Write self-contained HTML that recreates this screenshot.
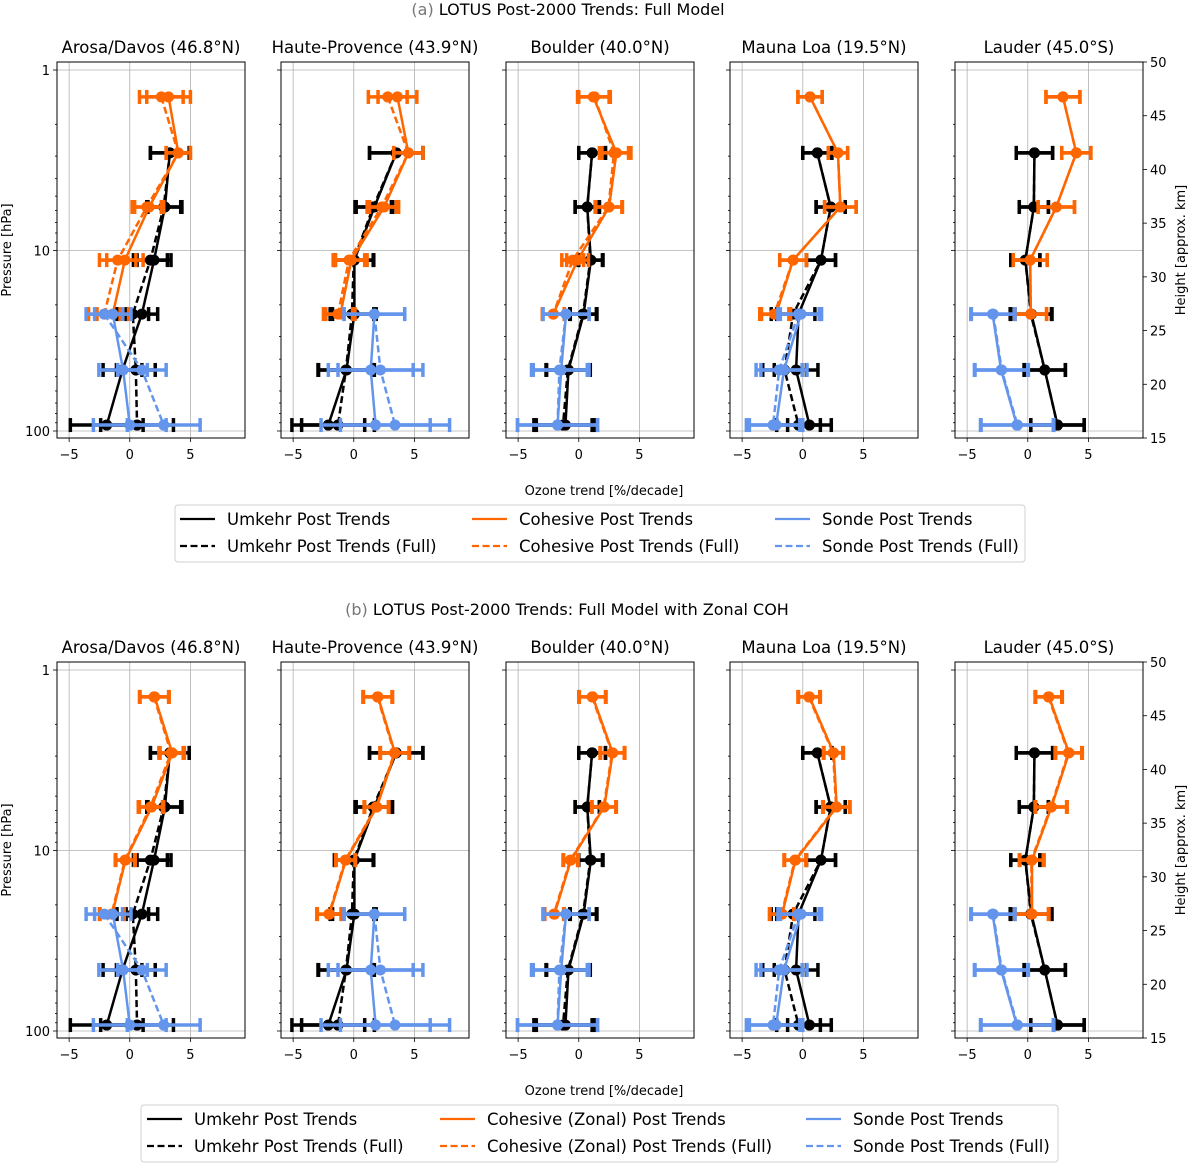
<!DOCTYPE html>
<html><head><meta charset="utf-8">
<style>
html,body{margin:0;padding:0;background:#fff;}
svg{display:block;font-family:"DejaVu Sans","Liberation Sans",sans-serif;}
</style></head>
<body>
<svg id="chart" width="1188" height="1164" viewBox="0 0 1188 1164" xmlns="http://www.w3.org/2000/svg"></svg>
<script>
// ---- data ----
const stations = ["Arosa/Davos (46.8°N)","Haute-Provence (43.9°N)","Boulder (40.0°N)","Mauna Loa (19.5°N)","Lauder (45.0°S)"];
const levels = [1.41, 2.88, 5.74, 11.3, 22.5, 45.9, 92.7];
const xTicks = [-5, 0, 5];
const yTicks = [1, 10, 100];
const hTicks = [15, 20, 25, 30, 35, 40, 45, 50];
const umkSolid = [
 [null,3.3,2.9,2.0,1.0,-0.6,-1.9],
 [null,3.5,1.7,0.05,0.05,-0.6,-2.1],
 [null,1.1,0.7,1.0,0.4,-0.85,-1.1],
 [null,1.2,2.3,1.5,-0.35,-0.55,0.55],
 [null,0.55,0.5,-0.2,0.3,1.4,2.45]];
const umkFull = [
 [null,3.3,2.8,1.7,0.25,0.5,0.6],
 [null,3.5,1.6,0.0,-0.15,-0.65,-1.3],
 [null,1.1,0.7,0.95,0.35,-0.9,-1.3],
 [null,1.2,2.3,1.5,-0.8,-1.5,-0.35],
 [null,0.55,0.5,-0.2,0.25,1.4,2.45]];
const umkErr = [
 [null,1.6,1.4,1.4,1.3,1.6,3.0],
 [null,2.2,1.5,1.6,1.8,2.3,3.0],
 [null,1.1,1.0,1.0,1.1,1.8,2.4],
 [null,1.2,1.2,1.2,1.8,1.8,1.8],
 [null,1.5,1.2,1.2,1.7,1.7,2.2]];
const cohSolidA = [
 [3.2,4.0,1.6,-0.4,-1.4,null,null],
 [3.6,4.5,2.5,-0.2,-1.1,null,null],
 [1.2,3.1,2.5,-0.1,-2.1,null,null],
 [0.6,2.9,3.1,-0.8,-2.2,null,null],
 [2.9,4.0,2.35,0.2,0.25,null,null]];
const cohFullA = [
 [2.6,4.0,1.4,-1.0,-2.1,null,null],
 [2.8,4.5,2.3,-0.4,-1.3,null,null],
 [1.3,2.9,2.45,-0.5,-2.1,null,null],
 [0.6,2.9,3.1,-0.8,-2.35,null,null],
 [2.9,4.0,2.35,0.2,0.25,null,null]];
const cohErrA = [
 [1.8,1.0,1.2,1.5,1.3,null,null],
 [1.6,1.2,1.2,1.3,1.2,null,null],
 [1.3,1.2,1.1,0.9,0.9,null,null],
 [1.0,0.8,1.3,1.1,1.2,null,null],
 [1.4,1.2,1.5,1.4,1.3,null,null]];
const cohSolidB = [
 [2.05,3.5,1.8,-0.35,-1.45,null,null],
 [2.0,3.4,1.9,-0.65,-2.0,null,null],
 [1.15,2.8,2.1,-0.65,-2.0,null,null],
 [0.55,2.55,2.8,-0.6,-1.7,null,null],
 [1.75,3.4,1.95,0.35,0.35,null,null]];
const cohFullB = [
 [2.0,3.4,1.7,-0.4,-1.5,null,null],
 [1.95,3.35,1.85,-0.7,-2.05,null,null],
 [1.1,2.75,2.05,-0.7,-2.05,null,null],
 [0.5,2.5,2.75,-0.65,-1.75,null,null],
 [1.7,3.35,1.9,0.3,0.3,null,null]];
const cohErrB = [
 [1.2,1.0,1.0,0.8,1.0,null,null],
 [1.2,1.2,1.0,0.8,1.0,null,null],
 [1.1,1.0,1.0,0.6,0.8,null,null],
 [0.9,0.8,1.1,0.9,1.0,null,null],
 [1.1,1.1,1.3,1.0,1.4,null,null]];
const sonSolid = [
 [null,null,null,null,-1.4,-0.55,0.0],
 [null,null,null,null,1.7,1.4,1.8],
 [null,null,null,null,-1.05,-1.45,-1.75],
 [null,null,null,null,-0.15,-1.55,-2.2],
 [null,null,null,null,-2.9,-2.2,-0.9]];
const sonFull = [
 [null,null,null,null,-2.1,1.0,2.8],
 [null,null,null,null,1.7,2.2,3.4],
 [null,null,null,null,-1.05,-1.6,-1.75],
 [null,null,null,null,-0.35,-1.95,-2.45],
 [null,null,null,null,-2.85,-2.15,-0.85]];
const sonErr = [
 [null,null,null,null,1.5,2.0,3.0],
 [null,null,null,null,2.5,3.5,4.5],
 [null,null,null,null,1.9,2.3,3.3],
 [null,null,null,null,1.7,1.9,2.2],
 [null,null,null,null,1.8,2.2,3.0]];

// ---- layout ----
const NS="http://www.w3.org/2000/svg";
const svg=document.getElementById('chart');
const panelLeft=[57,281,506,730,955];
const plotW=188, plotTop=62, plotBot=438;
const xMin=-6.0, xMax=9.5;
const BLACK="#000000", ORANGE="#ff6600", BLUE="#6495ed";
function el(tag,attrs,parent){const e=document.createElementNS(NS,tag);for(const k in attrs)e.setAttribute(k,attrs[k]);(parent||svg).appendChild(e);return e;}
function txt(s,attrs,parent){const e=el('text',attrs,parent);e.textContent=s;return e;}
function xScale(i,v){return panelLeft[i]+(v-xMin)/(xMax-xMin)*plotW;}
function yScale(p,off){return off+70+Math.log10(p)*180.5;}
function hScale(h,off){return off+plotBot-(h-15)/(50-15)*(plotBot-plotTop);}

function drawSeries(g,i,off,vals,errs,color,dashed,name){
  const sg=el('g',{},g);
  
  
  const pts=[];
  vals.forEach((v,k)=>{ if(v!==null) pts.push([xScale(i,v),yScale(levels[k],off),k,v]); });
  pts.forEach(p=>{
    const e=errs[p[2]]; if(e===null)return;
    const x1=xScale(i,p[3]-e), x2=xScale(i,p[3]+e);
    const eb=el('g',{},sg);
    
    
    el('line',{x1:x1,x2:x2,y1:p[1],y2:p[1],stroke:color,'stroke-width':3.5},eb);
    el('line',{x1:x1,x2:x1,y1:p[1]-7,y2:p[1]+7,stroke:color,'stroke-width':3.5},eb);
    el('line',{x1:x2,x2:x2,y1:p[1]-7,y2:p[1]+7,stroke:color,'stroke-width':3.5},eb);
  });
  const line=el('polyline',{points:pts.map(p=>p[0]+','+p[1]).join(' '),fill:'none',stroke:color,'stroke-width':2.5,'stroke-dasharray':dashed?'7,3.5':'none'},sg);
  
  
  pts.forEach(p=>{
    const c=el('circle',{cx:p[0],cy:p[1],r:5.5,fill:color},sg);
    
    
  });
}

function drawRow(off,cohS,cohF,cohE,tag){
  for(let i=0;i<5;i++){
    const g=el('g',{});
    
    
    const L=panelLeft[i], T=off+plotTop, B=off+plotBot;
    xTicks.forEach(t=>{const x=xScale(i,t);el('line',{x1:x,x2:x,y1:T,y2:B,stroke:'#b0b0b0','stroke-width':0.8},g);});
    yTicks.forEach(t=>{const y=yScale(t,off);el('line',{x1:L,x2:L+plotW,y1:y,y2:y,stroke:'#b0b0b0','stroke-width':0.8},g);});
    drawSeries(g,i,off,umkFull[i],umkErr[i],BLACK,true,'umkehr-full-series');
    drawSeries(g,i,off,umkSolid[i],umkErr[i],BLACK,false,'umkehr-series');
    drawSeries(g,i,off,cohF[i],cohE[i],ORANGE,true,'cohesive-full-series');
    drawSeries(g,i,off,cohS[i],cohE[i],ORANGE,false,'cohesive-series');
    drawSeries(g,i,off,sonFull[i],sonErr[i],BLUE,true,'sonde-full-series');
    drawSeries(g,i,off,sonSolid[i],sonErr[i],BLUE,false,'sonde-series');
    el('rect',{x:L,y:T,width:plotW,height:B-T,fill:'none',stroke:'#000','stroke-width':1},g);
    xTicks.forEach(t=>{const x=xScale(i,t);el('line',{x1:x,x2:x,y1:B,y2:B+4,stroke:'#000','stroke-width':0.8},g);
      const lb=txt(t<0?'\u2212'+Math.abs(t):String(t),{x:x,y:B+21,'font-size':13,'text-anchor':'middle'},g);
      });
    for(let d=0;d<=2;d++){for(let m=1;m<=9;m++){const p=m*Math.pow(10,d);if(p>109||p<0.9)continue;const y=yScale(p,off);
      el('line',{x1:L-(m===1?4:2),x2:L,y1:y,y2:y,stroke:'#000','stroke-width':0.8},g);}}
    if(i===0){yTicks.forEach(t=>{const lb=txt(String(t),{x:L-7,y:yScale(t,off)+5,'font-size':13,'text-anchor':'end'},g);
      });}
    if(i===4){const R=L+plotW;hTicks.forEach(h=>{const y=hScale(h,off);el('line',{x1:R,x2:R+4,y1:y,y2:y,stroke:'#000','stroke-width':0.8},g);
      const lb=txt(String(h),{x:R+7,y:y+5,'font-size':13},g);});}
    const tt=txt(stations[i],{x:L+plotW/2,y:off+53,'font-size':16.5,'text-anchor':'middle'},g);
    
  }
  const yl=txt('Pressure [hPa]',{x:0,y:0,'font-size':13,'text-anchor':'middle',transform:`translate(11,${off+250}) rotate(-90)`});
  
  const hl=txt('Height [approx. km]',{x:0,y:0,'font-size':13,'text-anchor':'middle',transform:`translate(1185,${off+250}) rotate(-90)`});
  
  const xl=txt('Ozone trend [%/decade]',{x:604,y:off+495,'font-size':13,'text-anchor':'middle'});
  
}

function drawLegend(off,box,cols,labels,tag){
  const g=el('g',{});
  
  
  el('rect',{x:box[0],y:off+505,width:box[1]-box[0],height:57,rx:3,fill:'#fff',stroke:'#d0d0d0','stroke-width':1},g);
  const colors=[BLACK,ORANGE,BLUE];
  for(let c=0;c<3;c++){for(let r=0;r<2;r++){
    const y=off+519+r*27;
    const e=el('g',{},g);
    
    
    el('line',{x1:cols[c],x2:cols[c]+35,y1:y,y2:y,stroke:colors[c],'stroke-width':2.2,'stroke-dasharray':r?'7,3.5':'none'},e);
    txt(labels[c][r],{x:cols[c]+47,y:y+6,'font-size':16.5},e);
  }}
}

const ta=txt('',{x:548,y:15,'font-size':16,'text-anchor':'middle'});

ta.setAttribute('x','568');
ta.innerHTML='<tspan fill="#777">(a)</tspan> LOTUS Post-2000 Trends: Full Model';
drawRow(0,cohSolidA,cohFullA,cohErrA,'a');
drawLegend(0,[175,1025],[180,472,775],[["Umkehr Post Trends","Umkehr Post Trends (Full)"],["Cohesive Post Trends","Cohesive Post Trends (Full)"],["Sonde Post Trends","Sonde Post Trends (Full)"]],'a');
const tb=txt('',{x:567,y:615,'font-size':16,'text-anchor':'middle'});

tb.innerHTML='<tspan fill="#777">(b)</tspan> LOTUS Post-2000 Trends: Full Model with Zonal COH';
drawRow(600,cohSolidB,cohFullB,cohErrB,'b');
drawLegend(600,[141,1058],[147,440,806],[["Umkehr Post Trends","Umkehr Post Trends (Full)"],["Cohesive (Zonal) Post Trends","Cohesive (Zonal) Post Trends (Full)"],["Sonde Post Trends","Sonde Post Trends (Full)"]],'b');
</script>
</body></html>
